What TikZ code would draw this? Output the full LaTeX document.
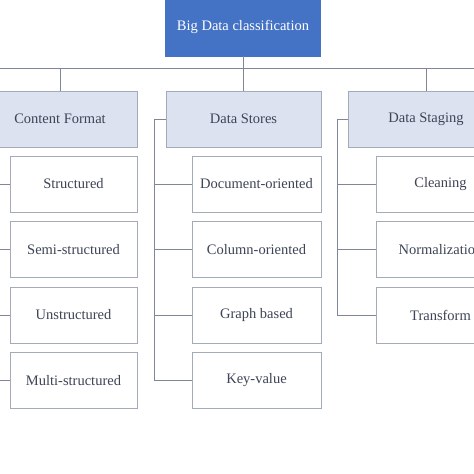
\documentclass[tikz,border=0pt]{standalone}
\usepackage{fontspec}
\setmainfont{Liberation Serif}
\usetikzlibrary{positioning}
\definecolor{rootblue}{HTML}{4472C4}
\definecolor{catfill}{HTML}{DDE2F0}
\definecolor{boxline}{HTML}{A3AAB8}
\definecolor{linkgray}{HTML}{7E8698}
\definecolor{txtgray}{HTML}{3E4456}

\begin{document}
\begin{tikzpicture}[x=1pt,y=-1pt,
    rootbox/.style={draw=rootblue, fill=rootblue, text=white, minimum width=155pt, minimum height=58pt, font=\fontsize{14.5}{16}\selectfont},
    catbox/.style={draw=boxline, fill=catfill, text=txtgray, minimum width=155pt, minimum height=56pt, font=\fontsize{14.5}{16}\selectfont},
    itembox/.style={draw=boxline, fill=white, text=txtgray, minimum height=56pt, font=\fontsize{14.5}{16}\selectfont},
    link/.style={draw=linkgray, line width=0.8pt}]

\useasboundingbox (0,0) rectangle (474,474);
\clip (0,0) rectangle (474,474);

% top of the tree
\node[rootbox] (root) at (243,27) {Big Data classification};
\coordinate (busl) at (-40,68);
\coordinate (busr) at (520,68);
\draw[link] (busl) -- (busr);
\draw[link] (root.south) -- (root.south |- busl);

% second level
\foreach \name/\x/\txt in {format/60/Content Format, stores/243.5/Data Stores, staging/426/Data Staging} {
    \node[catbox] (\name) at (\x,119) {\txt};
    \draw[link] (\name.north) -- (\name.north |- busl);
}

% leaves of each branch
\foreach \txt [count=\i] in {Structured, Semi-structured, Unstructured, Multi-structured} {
    \node[itembox, minimum width=127pt] (fmt\i) at (73.5,{184+65.5*(\i-1)}) {\txt};
    \draw[link] (format.west) -- ++(-11,0) |- (fmt\i.west);
}
\foreach \txt [count=\i] in {Document-oriented, Column-oriented, Graph based, Key-value} {
    \node[itembox, minimum width=129pt] (sto\i) at (256.5,{184+65.5*(\i-1)}) {\txt};
    \draw[link] (stores.west) -- ++(-11,0) |- (sto\i.west);
}
\foreach \txt [count=\i] in {Cleaning, Normalization, Transform} {
    \node[itembox, minimum width=129pt] (stg\i) at (440.5,{184+65.5*(\i-1)}) {\txt};
    \draw[link] (staging.west) -- ++(-11,0) |- (stg\i.west);
}
\end{tikzpicture}
\end{document}
